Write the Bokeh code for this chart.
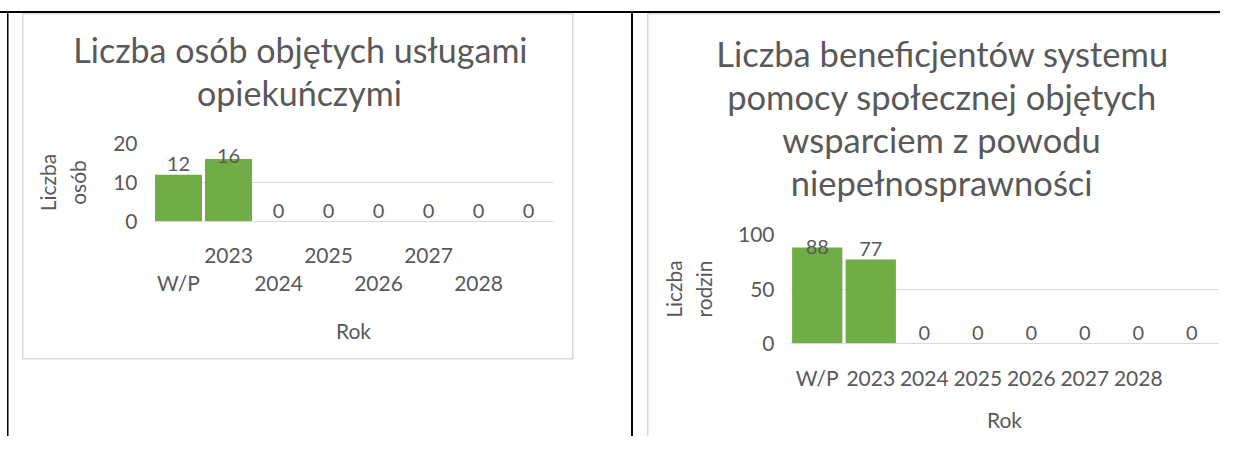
import numpy as np
from bokeh.plotting import figure
from bokeh.models import (FactorRange, Range1d, FixedTicker, CategoricalAxis,
                          ColumnDataSource, Title)
from bokeh.layouts import row
from bokeh.embed import file_html
from bokeh.resources import INLINE
from bokeh.core.properties import value

# ---------------- data ----------------
categories = ["W/P", "2023", "2024", "2025", "2026", "2027", "2028", " "]
osoby = [12, 16, 0, 0, 0, 0, 0, 0]
rodziny = [88, 77, 0, 0, 0, 0, 0, 0]
ticks_osoby = [0, 10, 20]
ticks_rodziny = [0, 50, 100]
title_osoby = ["Liczba osób objętych usługami", "opiekuńczymi"]
title_rodziny = ["Liczba beneficjentów systemu", "pomocy społecznej objętych",
                 "wsparciem z powodu", "niepełnosprawności"]
ylabel_osoby = "Liczba\nosób"
ylabel_rodziny = "Liczba\nrodzin"
xlabel = "Rok"

# ---------------- style ----------------
FONT = "Lato"
TXT = "#595959"
GREEN = "#70AD47"
GRID = "#D9D9D9"
TOTAL_W = 1220
FIG_H = 436
SMALL = "21px"
# rendered widths of the title lines in Lato at 33px (used to centre each line)
TITLE_W33 = {
    "Liczba osób objętych usługami": 439, "opiekuńczymi": 199,
    "Liczba beneficjentów systemu": 430, "pomocy społecznej objętych": 409,
    "wsparciem z powodu": 303.6, "niepełnosprawności": 287.6,
}


def style_axis_text(ax):
    ax.major_label_text_font = FONT
    ax.major_label_text_font_size = SMALL
    ax.major_label_text_color = TXT
    ax.axis_label_text_font = FONT
    ax.axis_label_text_font_size = SMALL
    ax.axis_label_text_font_style = "normal"
    ax.axis_label_text_color = TXT
    ax.major_tick_line_color = None
    ax.minor_tick_line_color = None
    ax.major_tick_out = 0
    ax.major_tick_in = 0


def make_chart(fig_x0, fig_w, frame, ymax, ticks, vals, title_lines, title_cx,
               title_px, title_gap, line_standoff, ylabel, ylabel_standoff, staggered,
               x_std1, x_std2, rok_std):
    fl, ft, fw, fh = frame  # canvas coordinates of the plot frame
    p = figure(width=fig_w, height=FIG_H, title=None,
               x_range=FactorRange(factors=categories), y_range=Range1d(0, ymax),
               output_backend="svg", toolbar_location=None, x_axis_location=None,
               min_border_left=fl - fig_x0,
               min_border_right=fig_x0 + fig_w - (fl + fw),
               min_border_top=ft,
               min_border_bottom=FIG_H - (ft + fh))
    if "frame_align" in p.properties():
        p.frame_align = False
    p.outline_line_color = None
    p.background_fill_color = None
    p.border_fill_color = None

    # title: a thin spacer next to the frame, then the lines from last to first
    p.add_layout(Title(text=" ", text_font_size="1px", standoff=title_gap), "above")
    for line in reversed(title_lines):
        w = TITLE_W33[line] * title_px / 33.0
        p.add_layout(Title(text=line, align="left", offset=title_cx - w / 2 - fl,
                           standoff=line_standoff, text_font=FONT,
                           text_font_size=f"{title_px}px", text_font_style="normal",
                           text_color=TXT), "above")

    # bars
    p.vbar(x=categories, top=vals, width=0.94, fill_color=GREEN, line_color=None)

    # data labels (kept inside the plot area like Excel)
    cap = ymax * (1 - 23.5 / fh)
    src = ColumnDataSource(dict(x=categories, y=np.minimum(np.array(vals, float), cap),
                                t=[str(v) for v in vals]))
    p.text(x="x", y="y", text="t", source=src, text_font=value(FONT),
           text_font_size="20px", text_color=TXT, text_align="center",
           text_baseline="bottom", y_offset=-4)

    # grid
    p.xgrid.visible = False
    p.ygrid.grid_line_color = GRID
    p.ygrid.grid_line_width = 1

    # y axis
    ya = p.yaxis[0]
    style_axis_text(ya)
    ya.ticker = FixedTicker(ticks=ticks)
    ya.axis_line_color = None
    ya.major_label_standoff = 16
    ya.axis_label = ylabel
    ya.axis_label_standoff = ylabel_standoff
    ya.axis_label_text_line_height = 1.2

    # x axes
    if staggered:
        upper = [c if i % 2 == 1 else " " * (i + 2) for i, c in enumerate(categories)]
        lower = [c if i % 2 == 0 else " " * (i + 2) for i, c in enumerate(categories)]
        p.extra_x_ranges = {"upper": FactorRange(factors=upper),
                            "lower": FactorRange(factors=lower)}
        xa = CategoricalAxis(x_range_name="upper")
        style_axis_text(xa)
        xa.axis_line_color = GRID
        xa.major_label_standoff = x_std1
        p.add_layout(xa, "below")
        xb = CategoricalAxis(x_range_name="lower")
        style_axis_text(xb)
        xb.axis_line_color = None
        xb.major_label_standoff = x_std2
        xb.axis_label = xlabel
        xb.axis_label_standoff = rok_std
        p.add_layout(xb, "below")
    else:
        xa = CategoricalAxis()
        style_axis_text(xa)
        xa.axis_line_color = GRID
        xa.major_label_standoff = x_std1
        xa.axis_label = xlabel
        xa.axis_label_standoff = rok_std
        p.add_layout(xa, "below")
    return p


def css_rects(rects, color):
    return [f"linear-gradient({color},{color}) {x}px {y}px / {w}px {h}px no-repeat"
            for (x, y, w, h) in rects]


LEFT_W = 634
p1 = make_chart(fig_x0=0, fig_w=LEFT_W, frame=(153, 143, 400, 78), ymax=20,
                ticks=ticks_osoby, vals=osoby, title_lines=title_osoby,
                title_cx=299, title_px=34, title_gap=28, line_standoff=0,
                ylabel=ylabel_osoby, ylabel_standoff=20,
                staggered=True, x_std1=20, x_std2=0, rok_std=20)

p2 = make_chart(fig_x0=LEFT_W, fig_w=TOTAL_W - LEFT_W, frame=(790, 234, 428, 109), ymax=100,
                ticks=ticks_rodziny, vals=rodziny, title_lines=title_rodziny,
                title_cx=940.5, title_px=34.5, title_gap=29, line_standoff=0,
                ylabel=ylabel_rodziny, ylabel_standoff=19,
                staggered=False, x_std1=21, x_std2=0, rok_std=14)

# table rules and chart frames (page decoration behind the two charts)
black = css_rects([(0, 11, TOTAL_W, 2), (7, 11, 1.5, FIG_H), (631, 11, 2, FIG_H)], "#000")
gray = css_rects([(22, 13, 551, 1.5), (22, 358, 551, 1.5), (22, 13, 1.5, 346), (572, 13, 1.5, 346),
                  (647, 13, TOTAL_W - 647, 1.5), (647, 13, 1.5, FIG_H)], GRID)

layout = row(p1, p2, spacing=0,
             styles={"background": ", ".join(black + gray) + ", #ffffff"})
open("out.html", "w").write(file_html(layout, INLINE))
